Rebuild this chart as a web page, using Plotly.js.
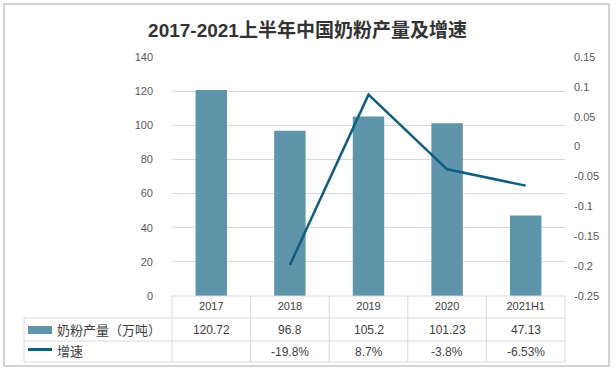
<!DOCTYPE html>
<html><head><meta charset="utf-8">
<script src="https://cdn.plot.ly/plotly-3.0.1.min.js"></script>
<style>html,body{margin:0;padding:0;background:#fff}</style>
</head><body><div id="chart" style="width:615px;height:372px"></div>
<script>
const categories = ['2017','2018','2019','2020','2021H1'];
const production = [120.72, 96.8, 105.2, 101.23, 47.13];
const growth = [null, -0.198, 0.087, -0.038, -0.0653];
const productionLabels = ['120.72','96.8','105.2','101.23','47.13'];
const growthLabels = ['', '-19.8%', '8.7%', '-3.8%', '-6.53%'];
const y2TickVals = [0.15,0.1,0.05,0,-0.05,-0.1,-0.15,-0.2,-0.25];
const y2TickText = ['0.15','0.1','0.05','0','-0.05','-0.1','-0.15','-0.2','-0.25'];
const seriesNames = ['奶粉产量（万吨）','增速'];

const W=615,H=372,L=172,R=50,T=57,B=76;
const pw=W-L-R, ph=H-T-B;
const px = x => (x-L)/pw;
const py = y => (H-B-y)/ph;

const barColor='#5f95ab', lineColor='#0f5e7f', gridColor='#d9d9d9', txt='#595959';

const shapes=[];
function hl(x0,x1,y,c){shapes.push({type:'line',xref:'paper',yref:'paper',x0:px(x0),x1:px(x1),y0:py(y),y1:py(y),line:{color:c||gridColor,width:1}});}
function vl(x,y0,y1,c){shapes.push({type:'line',xref:'paper',yref:'paper',x0:px(x),x1:px(x),y0:py(y0),y1:py(y1),line:{color:c||gridColor,width:1}});}
shapes.push({type:'rect',xref:'paper',yref:'paper',x0:px(4),x1:px(609),y0:py(4),y1:py(366),line:{color:'#a6a6a6',width:1},layer:'below'});
hl(172,565,296); hl(24,565,318); hl(24,565,341); hl(24,565,362);
vl(24,318,362);
for(let i=0;i<=5;i++){ vl(172+i*pw/5,296,362); }
shapes.push({type:'rect',xref:'paper',yref:'paper',x0:px(28),x1:px(52),y0:py(326),y1:py(334),fillcolor:barColor,line:{width:0}});
shapes.push({type:'line',xref:'paper',yref:'paper',x0:px(28),x1:px(52),y0:py(349.5),y1:py(349.5),line:{color:lineColor,width:3}});

const annotations=[];
const fnt={family:'Liberation Sans, Noto Sans CJK SC',size:12,color:'#404040'};
categories.forEach((c,i)=>{
  annotations.push({x:i,xref:'x',yref:'paper',y:py(330),text:productionLabels[i],showarrow:false,font:fnt,yanchor:'middle'});
  annotations.push({x:i,xref:'x',yref:'paper',y:py(352),text:growthLabels[i],showarrow:false,font:fnt,yanchor:'middle'});
});
const cjk={family:'Noto Sans CJK SC',size:13,color:'#404040'};
annotations.push({xref:'paper',yref:'paper',x:px(55),y:py(329),xanchor:'left',yanchor:'middle',text:seriesNames[0],showarrow:false,font:cjk});
annotations.push({xref:'paper',yref:'paper',x:px(55),y:py(350),xanchor:'left',yanchor:'middle',text:seriesNames[1],showarrow:false,font:cjk});

const data=[
  {type:'bar',x:categories,y:production,name:seriesNames[0],marker:{color:barColor},width:0.4,hoverinfo:'skip'},
  {type:'scatter',mode:'lines',x:categories,y:growth,name:seriesNames[1],yaxis:'y2',line:{color:lineColor,width:2.5},connectgaps:false,hoverinfo:'skip'}
];
const layout={
  width:W,height:H,margin:{l:L,r:R,t:T,b:B},
  paper_bgcolor:'#fff',plot_bgcolor:'#fff',showlegend:false,
  title:{text:'<b>2017-2021上半年中国奶粉产量及增速</b>',x:0.5,xref:'container',xanchor:'center',y:1-30/H,yanchor:'middle',yref:'container',font:{family:'Liberation Sans, Noto Sans CJK SC',size:19,color:'#333333'}},
  xaxis:{type:'category',range:[-0.5,4.5],showgrid:false,zeroline:false,showline:false,ticks:'',tickfont:{family:'Liberation Sans',size:11,color:'#404040'},ticklabelstandoff:2,fixedrange:true},
  yaxis:{range:[0,140],dtick:20,showgrid:true,gridcolor:gridColor,zeroline:false,showline:false,ticks:'',tickfont:{family:'Liberation Sans',size:11,color:txt},ticklabelstandoff:18},
  yaxis2:{overlaying:'y',side:'right',range:[-0.25,0.15],tickvals:y2TickVals,ticktext:y2TickText,showgrid:false,zeroline:false,showline:false,ticks:'',tickfont:{family:'Liberation Sans',size:11,color:txt},ticklabelstandoff:8},
  shapes:shapes,annotations:annotations
};
Plotly.newPlot('chart',data,layout,{staticPlot:true,displayModeBar:false});
</script></body></html>
